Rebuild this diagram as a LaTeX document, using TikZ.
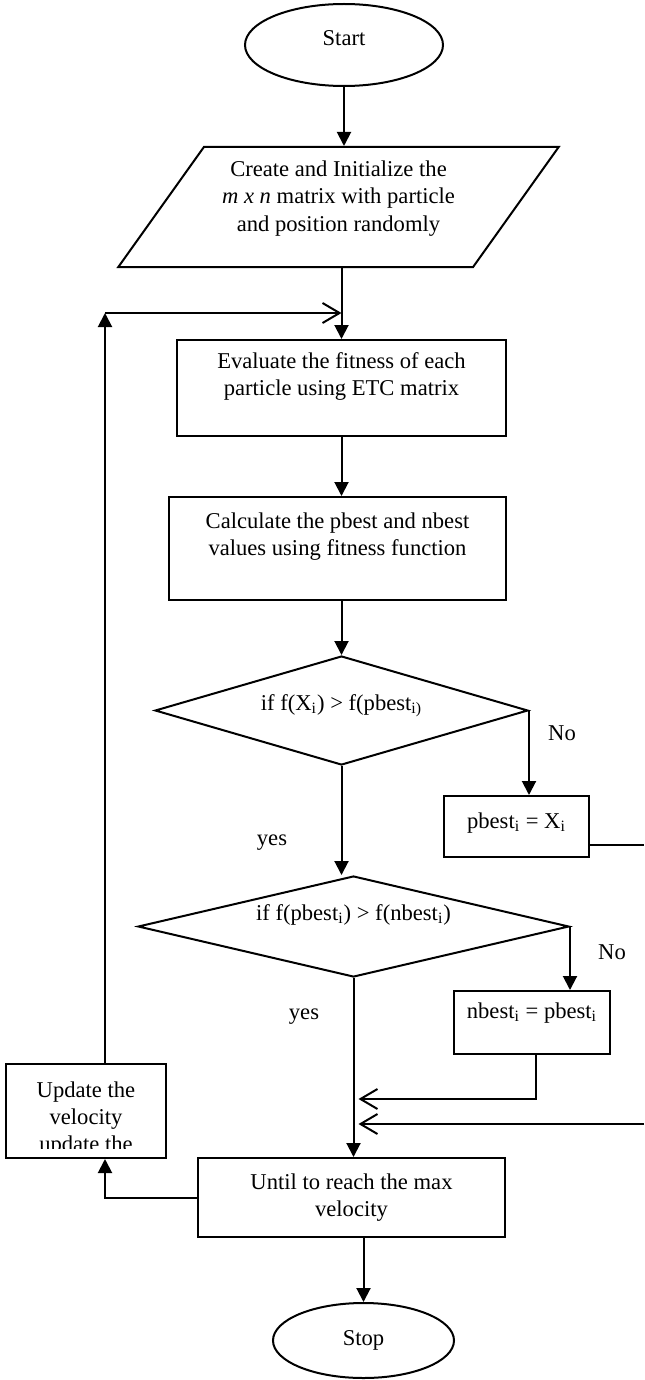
\documentclass[tikz,border=0pt]{standalone}
\usepackage{fontspec}
\setmainfont{Liberation Serif}
\usetikzlibrary{shapes.geometric,arrows.meta,calc}

\begin{document}
\begin{tikzpicture}[x=0.5pt, y=-0.5pt, line width=1pt,
 every node/.style={font=\fontsize{11.3}{13.6}\selectfont},
 proc/.style={draw, align=center, inner sep=2pt},
 termin/.style={draw, ellipse, inner sep=0pt},
 decide/.style={draw, diamond, inner sep=0pt, align=center},
 arr/.style={-{Triangle[length=7pt,width=7pt]}},
 openarr/.style={-{Straight Barb[length=8.5pt,width=10pt]}}]
 \useasboundingbox (0,0) rectangle (644,1380);

 % boxes
 \node[termin, minimum width=99pt, minimum height=41pt, text depth=7pt] (start) at (344,45) {Start};
 \node[draw, trapezium, trapezium left angle=53.4, trapezium right angle=126.6,
   trapezium stretches=true, minimum width=220.5pt, minimum height=60pt,
   align=center, text depth=11pt] (init) at (338.5,207)
   {Create and Initialize the\\\textit{m x n} matrix with particle\\and position randomly};
 \node[proc, minimum width=164.5pt, minimum height=48pt, text depth=14pt] (eval) at (341.5,388)
   {Evaluate the fitness of each\\particle using ETC matrix};
 \node[proc, minimum width=168.5pt, minimum height=51.5pt, text depth=14pt] (calc) at (337.5,548.5)
   {Calculate the pbest and nbest\\values using fitness function};
 \node[decide, minimum width=186.5pt, minimum height=54.5pt, aspect=3.4, text depth=8pt] (dec1) at (341.5,710.5)
   {if f(X\textsubscript{i}) > f(pbest\textsubscript{i)}};
 \node[proc, minimum width=72.5pt, minimum height=30.5pt, text depth=6pt] (pbest) at (516.5,826.5)
   {pbest\textsubscript{i} = X\textsubscript{i}};
 \node[decide, minimum width=215.5pt, minimum height=50.5pt, aspect=4.3, text depth=14pt] (dec2) at (353.5,926.5)
   {if f(pbest\textsubscript{i}) > f(nbest\textsubscript{i})};
 \node[proc, minimum width=78pt, minimum height=31.5pt, text depth=12pt] (nbest) at (532,1022.5)
   {nbest\textsubscript{i} = pbest\textsubscript{i}};
 \node[proc, minimum width=80pt, minimum height=47pt,
   path picture={\clip (path picture bounding box.north west) rectangle ([yshift=5pt]path picture bounding box.south east);
     \node[anchor=north, align=center, inner sep=0pt]
     at ([yshift=-3.5pt]path picture bounding box.north) {Update the\\velocity\\update the};}] (upd) at (86,1111) {};
 \node[proc, minimum width=153.5pt, minimum height=39.5pt] (until) at (351.5,1197.5)
   {Until to reach the max\\velocity};
 \node[termin, minimum width=90.5pt, minimum height=37.5pt] (stop) at (363.5,1340.5) {Stop};

 % labels
 \node (no1) at (562,733) {No};
 \node (yes1) at (272,843) {yes};
 \node (no2) at (612,952) {No};
 \node (yes2) at (304,1017) {yes};

 \coordinate (lp) at (105,313);
 \coordinate (rt) at (644,845);
 \coordinate (rb) at (644,1124);
 \coordinate (nb) at (536,1099);

 % main line
 \draw[arr] (start.south) -- (start.south |- init.north);
 \draw[arr] (eval.north |- init.south) -- (eval.north);
 \draw[arr] (eval.south) -- (eval.south |- calc.north);
 \draw[arr] (dec1.north |- calc.south) -- (dec1.north);
 \draw[arr] (dec1.south) -- (dec1.south |- dec2.north);
 \draw[arr] (dec2.south) -- (dec2.south |- until.north);
 \draw[arr] (stop.north |- until.south) -- (stop.north);

 % No branches
 \draw[arr] (dec1.east) -- (dec1.east |- pbest.north);
 \draw (pbest.east |- rt) -- (rt);
 \draw[openarr, shorten >=2.5pt] (rb) -- (rb -| dec2.south);
 \draw[arr] (dec2.east) -- (dec2.east |- nbest.north);
 \draw[openarr, shorten >=2.5pt] (nbest.south -| nb) -- (nb) -- (nb -| dec2.south);

 % loop back
 \draw[arr] (until.west) -| (upd.south -| lp);
 \draw[arr] (upd.north -| lp) -- (lp);
 \draw[openarr] (lp) -- (lp -| eval.north);
\end{tikzpicture}
\end{document}
